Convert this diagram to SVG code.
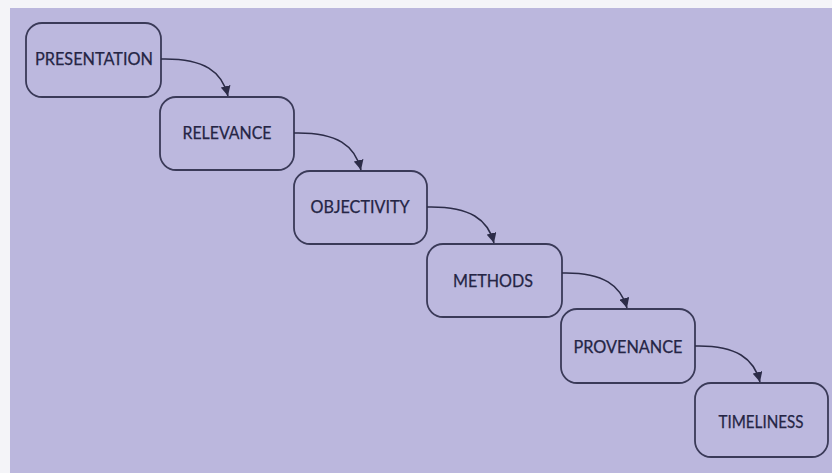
<svg xmlns="http://www.w3.org/2000/svg" width="832" height="473" viewBox="0 0 832 473">
  <defs>
    <marker id="head" viewBox="0 0 10 10" refX="10" refY="5" markerWidth="10" markerHeight="10" markerUnits="userSpaceOnUse" orient="auto">
      <path d="M0,0 L10,5 L0,10 Z" fill="#2c2c48"/>
    </marker>
    <style>
      .box { fill: #bcb8de; stroke: #3a3a58; stroke-width: 1.8; }
      .lbl { font-family: Lato, "Liberation Sans", sans-serif; font-size: 16.5px; fill: #252545; stroke: #252545; stroke-width: 0.25; text-anchor: middle; }
      .arrow { fill: none; stroke: #2c2c48; stroke-width: 1.6; marker-end: url(#head); }
    </style>
  </defs>

  <!-- page and panel -->
  <rect x="0" y="0" width="832" height="473" fill="#f4f4f8"/>
  <rect x="10" y="8" width="822" height="465" fill="#bbb7dd"/>

  <g id="presentation">
    <rect class="box" x="26" y="23" width="135" height="74" rx="16"/>
    <text class="lbl" x="94" y="65" textLength="118" lengthAdjust="spacingAndGlyphs">PRESENTATION</text>
  </g>
  <g id="relevance">
    <rect class="box" x="160" y="97" width="134" height="73" rx="16"/>
    <text class="lbl" x="227" y="139" textLength="89" lengthAdjust="spacingAndGlyphs">RELEVANCE</text>
  </g>
  <g id="objectivity">
    <rect class="box" x="294" y="171" width="133" height="73" rx="16"/>
    <text class="lbl" x="360" y="213" textLength="99" lengthAdjust="spacingAndGlyphs">OBJECTIVITY</text>
  </g>
  <g id="methods">
    <rect class="box" x="427" y="244" width="135" height="73" rx="16"/>
    <text class="lbl" x="493" y="287" textLength="80" lengthAdjust="spacingAndGlyphs">METHODS</text>
  </g>
  <g id="provenance">
    <rect class="box" x="561" y="309" width="134" height="74" rx="16"/>
    <text class="lbl" x="628" y="353" textLength="109" lengthAdjust="spacingAndGlyphs">PROVENANCE</text>
  </g>
  <g id="timeliness">
    <rect class="box" x="695" y="383" width="133" height="74" rx="16"/>
    <text class="lbl" x="761" y="428" textLength="85" lengthAdjust="spacingAndGlyphs">TIMELINESS</text>
  </g>

  <g id="connectors">
    <path class="arrow" d="M161,59 C205,58 222,72 228,96"/>
    <path class="arrow" d="M294,133 C338,132 355,146 361,170"/>
    <path class="arrow" d="M427,207 C471,206 488,220 494,243"/>
    <path class="arrow" d="M562,273 C604,272 621,286 627,308"/>
    <path class="arrow" d="M695,346 C737,345 754,359 760,382"/>
  </g>
</svg>
